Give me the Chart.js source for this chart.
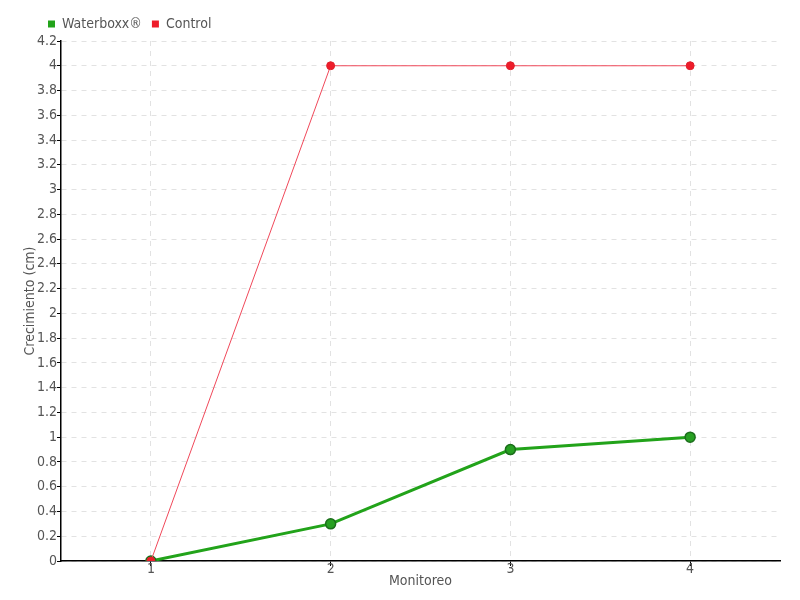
<!DOCTYPE html>
<html>
<head>
<meta charset="utf-8">
<script src="https://cdn.jsdelivr.net/npm/chart.js@4/dist/chart.umd.min.js"></script>
<style>
  html, body { margin: 0; padding: 0; background: #fff; }
  #wrap { width: 800px; height: 600px; }
</style>
</head>
<body>
<div id="wrap"><canvas id="lineChart"></canvas></div>
<script>
const monitoreo = ['1', '2', '3', '4'];
const waterboxx = [0, 0.3, 0.9, 1];
const control = [0, 4, 4, 4];

const font_family = "'DejaVu Sans Condensed', 'Liberation Sans Narrow', sans-serif";
const text_color = '#555555';

Chart.defaults.font.family = font_family;
Chart.defaults.font.size = 14;
Chart.defaults.color = text_color;

const data = {
  labels: monitoreo,
  datasets: [
    {
      // drawn on top, listed second in the legend (reverse)
      label: 'Control',
      data: control,
      borderColor: '#f0485a',
      backgroundColor: '#ee1c2a',
      borderWidth: 1,
      pointRadius: 4,
      pointBorderWidth: 1,
      pointBorderColor: '#e0202c',
      pointBackgroundColor: '#ee1c2a',
      tension: 0
    },
    {
      label: 'Waterboxx®',
      data: waterboxx,
      borderColor: '#22a31a',
      backgroundColor: '#22a31a',
      borderWidth: 3,
      pointRadius: 5,
      pointBorderWidth: 1.5,
      pointBorderColor: '#1b6e1b',
      pointBackgroundColor: '#27a022',
      tension: 0
    }
  ]
};

// move the legend a bit to the right, like the original
const legendShift = {
  id: 'legendShift',
  afterLayout(chart) {
    chart.legend.left += 15;
  }
};

const config = {
  type: 'line',
  data: data,
  plugins: [legendShift],
  options: {
    responsive: true,
    maintainAspectRatio: false,
    animation: false,
    layout: { padding: { left: 23, right: 20, top: 7, bottom: 12 } },
    plugins: {
      legend: {
        position: 'top',
        align: 'start',
        reverse: true,
        labels: {
          boxWidth: 7,
          boxHeight: 7,
          padding: 10,
          color: text_color,
          generateLabels(chart) {
            const items = Chart.defaults.plugins.legend.labels.generateLabels(chart);
            items.forEach((item) => {
              item.lineWidth = 0;
              item.strokeStyle = item.fillStyle;
            });
            return items;
          }
        }
      },
      tooltip: { enabled: false }
    },
    scales: {
      x: {
        offset: true,
        grid: {
          offset: false,
          color: '#e2e2e2',
          tickColor: '#000',
          tickLength: 5,
          tickBorderDash: []
        },
        border: { color: '#000', width: 1.5, dash: [5, 5] },
        ticks: { padding: -4, color: text_color, font: { lineHeight: 1 } },
        title: {
          display: true,
          text: 'Monitoreo',
          padding: { top: 2, bottom: 0 },
          color: text_color,
          font: { lineHeight: 1 }
        }
      },
      y: {
        min: 0,
        max: 4.2,
        grid: {
          color: '#e2e2e2',
          tickColor: '#000',
          tickLength: 4,
          tickBorderDash: []
        },
        border: { color: '#000', width: 1.5, dash: [5, 5] },
        ticks: {
          stepSize: 0.2,
          padding: 0,
          color: text_color,
          font: { lineHeight: 1 },
          callback: (v) => String(Number(v.toFixed(1)))
        },
        title: {
          display: true,
          text: 'Crecimiento (cm)',
          padding: { top: 0, bottom: 0 },
          color: text_color,
          font: { lineHeight: 1 }
        }
      }
    }
  }
};

const ctx = document.getElementById('lineChart').getContext('2d');
const lineChart = new Chart(ctx, config);
</script>
</body>
</html>
